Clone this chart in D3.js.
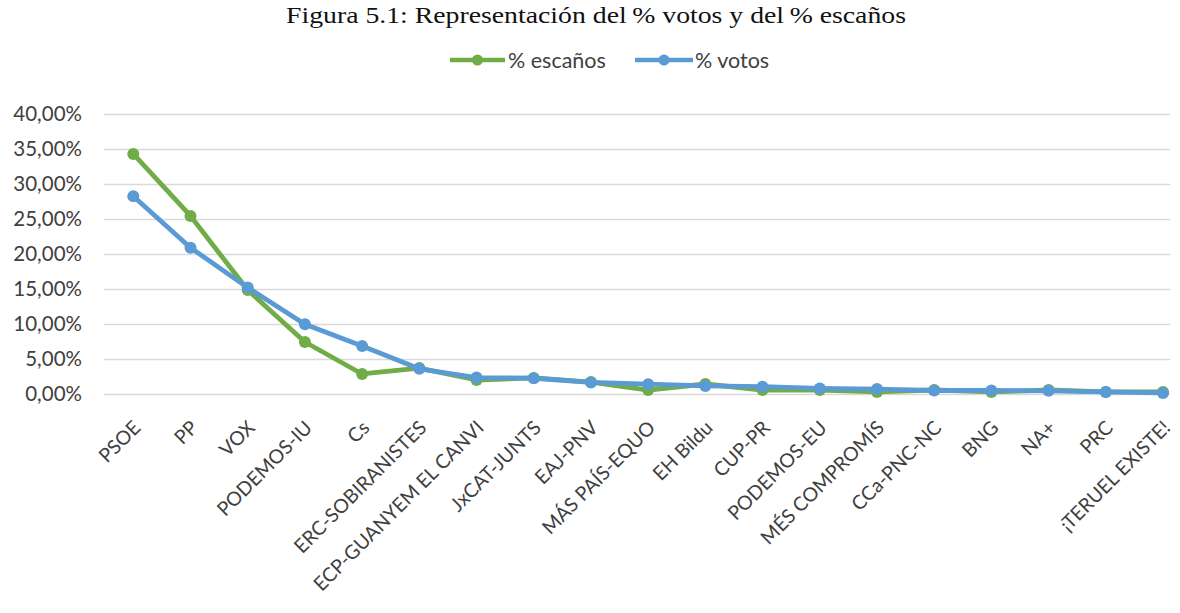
<!DOCTYPE html>
<html>
<head>
<meta charset="utf-8">
<script src="https://cdn.jsdelivr.net/npm/d3@7"></script>
<style>
  html, body { margin: 0; padding: 0; background: #fff; }
  svg { display: block; }
</style>
</head>
<body>
<svg id="chart" width="1180" height="613"></svg>
<script>
const categories = ["PSOE", "PP", "VOX", "PODEMOS-IU", "Cs", "ERC-SOBIRANISTES", "ECP-GUANYEM EL CANVI", "JxCAT-JUNTS", "EAJ-PNV", "MÁS PAÍS-EQUO", "EH Bildu", "CUP-PR", "PODEMOS-EU", "MÉS COMPROMÍS", "CCa-PNC-NC", "BNG", "NA+", "PRC", "¡TERUEL EXISTE!"];
const escanos = [34.29, 25.43, 14.86, 7.43, 2.86, 3.71, 2.00, 2.29, 1.71, 0.57, 1.43, 0.57, 0.57, 0.29, 0.57, 0.29, 0.57, 0.29, 0.29];
const votos = [28.25, 20.90, 15.20, 9.95, 6.85, 3.60, 2.35, 2.25, 1.65, 1.40, 1.15, 1.05, 0.80, 0.70, 0.50, 0.50, 0.45, 0.30, 0.15];
const yTicks = [0, 5, 10, 15, 20, 25, 30, 35, 40];
const seriesNames = ["% escaños", "% votos"];
const seriesColors = ["#70AD47", "#5B9BD5"];

const svg = d3.select("#chart");
const font = "Lato, 'Open Sans', 'Liberation Sans', sans-serif";

// Title
svg.append("text")
  .attr("x", 596).attr("y", 23)
  .attr("text-anchor", "middle")
  .attr("font-family", "'Liberation Serif', 'DejaVu Serif', serif")
  .attr("font-size", 23)
  .attr("fill", "#111")
  .attr("textLength", 620)
  .attr("lengthAdjust", "spacingAndGlyphs")
  .text("Figura 5.1: Representación del\u2009% votos y del\u2009% escaños");

const x = d3.scalePoint().domain(categories).range([133.3, 1163]);
const y = d3.scaleLinear().domain([0, 40]).range([394, 114]);

const loc = d3.formatLocale({decimal: ",", thousands: ".", grouping: [3], currency: ["", "€"]});
const fmt = v => loc.format(".2f")(v) + "%";

// Gridlines + y labels
const yAxis = d3.axisLeft(y).tickValues(yTicks).tickSize(-(1170 - 104)).tickFormat(fmt).tickPadding(22);
const gy = svg.append("g").attr("transform", "translate(104,0)").call(yAxis);
gy.select(".domain").remove();
gy.selectAll(".tick line").attr("stroke", "#D9D9D9").attr("stroke-width", 1.5);
gy.selectAll(".tick text")
  .attr("font-family", font).attr("font-size", 20.5).attr("fill", "#404040");

// X axis labels
const xAxis = d3.axisBottom(x).tickSize(0).tickPadding(0);
const gx = svg.append("g").attr("transform", "translate(0,394)").call(xAxis);
gx.select(".domain").remove();
gx.selectAll(".tick text")
  .attr("font-family", font).attr("font-size", 19.5).attr("fill", "#404040")
  .attr("text-anchor", "end")
  .attr("dy", null).attr("y", null)
  .attr("transform", "translate(8,35) rotate(-45)");

// Lines
const data = [escanos, votos];
const line = d3.line().x((d, i) => x(categories[i])).y(d => y(d));
data.forEach((vals, k) => {
  const g = svg.append("g");
  g.append("path").datum(vals)
    .attr("d", line)
    .attr("fill", "none")
    .attr("stroke", seriesColors[k])
    .attr("stroke-width", 4.8)
    .attr("stroke-linejoin", "round");
  g.selectAll("circle").data(vals).join("circle")
    .attr("cx", (d, i) => x(categories[i]))
    .attr("cy", d => y(d))
    .attr("r", 6)
    .attr("fill", seriesColors[k]);
});

// Legend
const legendItems = [
  {x1: 450, x2: 505, tx: 508},
  {x1: 635, x2: 693, tx: 695}
];
legendItems.forEach((it, k) => {
  const g = svg.append("g");
  g.append("line").attr("x1", it.x1).attr("x2", it.x2).attr("y1", 60).attr("y2", 60)
    .attr("stroke", seriesColors[k]).attr("stroke-width", 4.5);
  g.append("circle").attr("cx", (it.x1 + it.x2) / 2).attr("cy", 60).attr("r", 5.5)
    .attr("fill", seriesColors[k]);
  g.append("text").attr("x", it.tx).attr("y", 60).attr("dy", "0.35em")
    .attr("font-family", font).attr("font-size", 21.5).attr("fill", "#404040")
    .text(seriesNames[k]);
});
</script>
</body>
</html>
